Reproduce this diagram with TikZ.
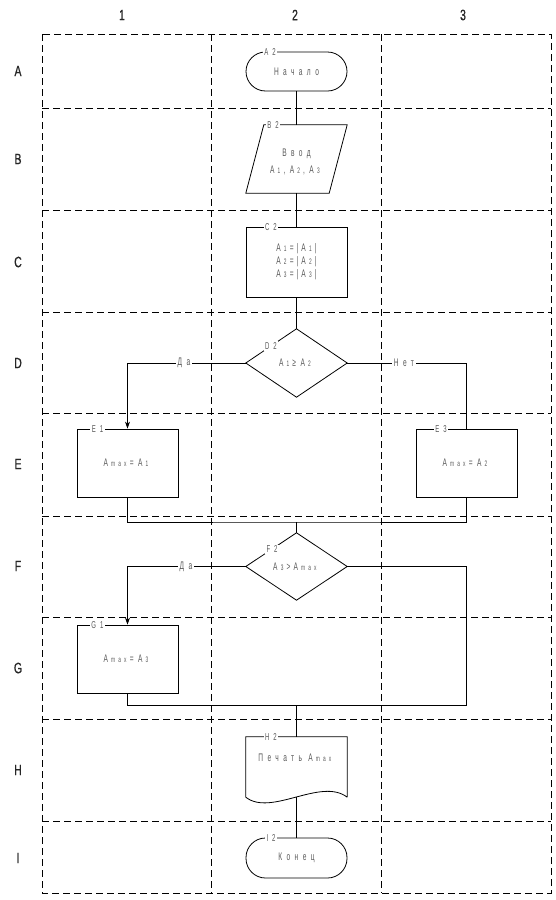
\documentclass[tikz,border=0pt]{standalone}
\usepackage{fontspec}
\setmainfont{Liberation Sans}[FakeStretch=0.6,LetterSpace=40]
\newfontfamily\hdrfont{Liberation Sans}[FakeStretch=0.7,FakeBold=0.8]
\usetikzlibrary{arrows.meta}
\newcommand\ix[1]{\kern3.2pt{\fontsize{8}{8}\selectfont #1}\kern3.2pt}
\begin{document}
\begin{tikzpicture}[x=1pt,y=-1pt,
  font=\fontsize{11}{13}\selectfont,
  gridline/.style={dash pattern=on 7pt off 4pt, line width=0.8pt},
  conn/.style={line width=0.8pt},
  arr/.style={conn,-{Stealth[length=7pt,width=5pt]}},
  box/.style={draw, line width=0.8pt, minimum width=101pt, minimum height=68pt, inner sep=0pt, text=black!65},
  ghost/.style={minimum width=101pt, minimum height=68pt, inner sep=0pt, text=black!65},
  txt/.style={inner sep=0pt, text=black!65},
  term/.style={draw, line width=0.8pt, rounded corners=19.5pt, minimum width=101pt, minimum height=39pt, inner sep=0pt, text=black!65},
  lbl/.style={fill=white, inner sep=1.5pt, text=black!65, font=\fontsize{10}{10}\selectfont},
  hdr/.style={font=\hdrfont\fontsize{15}{15}\selectfont, text=black!85}
]
\useasboundingbox (0,0) rectangle (555,900);
% grid
\draw[gridline] (42,34) rectangle (551,893);
\foreach \x in {211,381} \draw[gridline] (\x,34) -- (\x,893);
\foreach \y in {108,210,312,413,516,617,719,821} \draw[gridline] (42,\y) -- (551,\y);
% headers
\node[hdr] (h1) at (122,15) {1};
\node[hdr] (h2) at (295,15) {2};
\node[hdr] (h3) at (463,15) {3};
\node[hdr] (rA) at (18,71) {A};
\node[hdr] (rB) at (18,159) {B};
\node[hdr] (rC) at (18,262) {C};
\node[hdr] (rD) at (18,363) {D};
\node[hdr] (rE) at (18,464) {E};
\node[hdr] (rF) at (18,566) {F};
\node[hdr] (rG) at (18,668) {G};
\node[hdr] (rH) at (18,770) {H};
\node[hdr] (rI) at (18,858) {I};
% shapes
\node[term] (A2) at (296.5,71.5) {Начало};
\node[ghost] (B2) at (296.5,159) {};
\draw[conn] ([xshift=18pt]B2.north west) -- (B2.north east) -- ([xshift=-18pt]B2.south east) -- (B2.south west) -- cycle;
\node[txt, align=center, font=\fontsize{11}{17}\selectfont] (B2t) at (296.5,161.5) {Ввод\\A\ix{1},A\ix{2},A\ix{3}};
\node[box, minimum height=70pt, align=left] (C2) at (296.5,262) {A\ix{1}=\kern3pt|\kern3pt A\ix{1}|\\A\ix{2}=\kern3pt|\kern3pt A\ix{2}|\\A\ix{3}=\kern3pt|\kern3pt A\ix{3}|};
\node[ghost] (D2) at (296.5,363) {A\ix{1}≥A\ix{2}};
\draw[conn] (D2.west) -- (D2.north) -- (D2.east) -- (D2.south) -- cycle;
\node[box] (E1) at (127.5,463) {A\ix{max}=A\ix{1}};
\node[box] (E3) at (466.5,463) {A\ix{max}=A\ix{2}};
\node[ghost, minimum height=67pt] (F2) at (296.5,566.5) {A\ix{3}>\kern3pt A\ix{max}};
\draw[conn] (F2.west) -- (F2.north) -- (F2.east) -- (F2.south) -- cycle;
\node[box] (G1) at (127.5,659) {A\ix{max}=A\ix{3}};
\node[ghost, minimum height=60pt] (H2) at (296.5,767) {};
\draw[conn] (H2.south east) -- (H2.north east) -- (H2.north west) -- (H2.south west)
  .. controls (271,817) and (321,777) .. (H2.south east);
\node[txt] (H2t) at (296.5,758) {Печать A\ix{max}};
\node[term, minimum height=40pt] (I2) at (296.5,858) {Конец};
% connectors
\coordinate (m1) at (296.5,522);
\coordinate (m2) at (296.5,705);
\coordinate (m3) at (466.5,705);
\draw[conn] (A2.south) -- (B2.north);
\draw[conn] (B2.south) -- (C2.north);
\draw[conn] (C2.south) -- (D2.north);
\draw[arr] (D2.west) -| (E1.north);
\draw[conn] (D2.east) -| (E3.north);
\draw[conn] (E1.south) |- (m1) -| (E3.south);
\draw[conn] (m1) -- (F2.north);
\draw[arr] (F2.west) -| (G1.north);
\draw[conn] (F2.east) -| (m3) -- (m2);
\draw[conn] (G1.south) |- (m2);
\draw[conn] (m2) -- (H2.north);
\draw[conn] (H2.south) -- (I2.north);
% branch labels
\node[lbl, font=\fontsize{11}{11}\selectfont] (yes1) at (184,363) {Да};
\node[lbl, font=\fontsize{11}{11}\selectfont] (no1) at (404,363) {Нет};
\node[lbl, font=\fontsize{11}{11}\selectfont] (yes2) at (186,566.5) {Да};
% shape labels
\node[lbl] (lA2) at (270,52) {A2};
\node[lbl] (lB2) at (273,125) {B2};
\node[lbl] (lC2) at (271,227) {C2};
\node[lbl] (lD2) at (271,346) {D2};
\node[lbl] (lE1) at (97.5,429) {E1};
\node[lbl] (lE3) at (441,429) {E3};
\node[lbl] (lF2) at (272,549.5) {F2};
\node[lbl] (lG1) at (97.5,625) {G1};
\node[lbl] (lH2) at (271,737) {H2};
\node[lbl] (lI2) at (271,838) {I2};
\end{tikzpicture}
\end{document}
